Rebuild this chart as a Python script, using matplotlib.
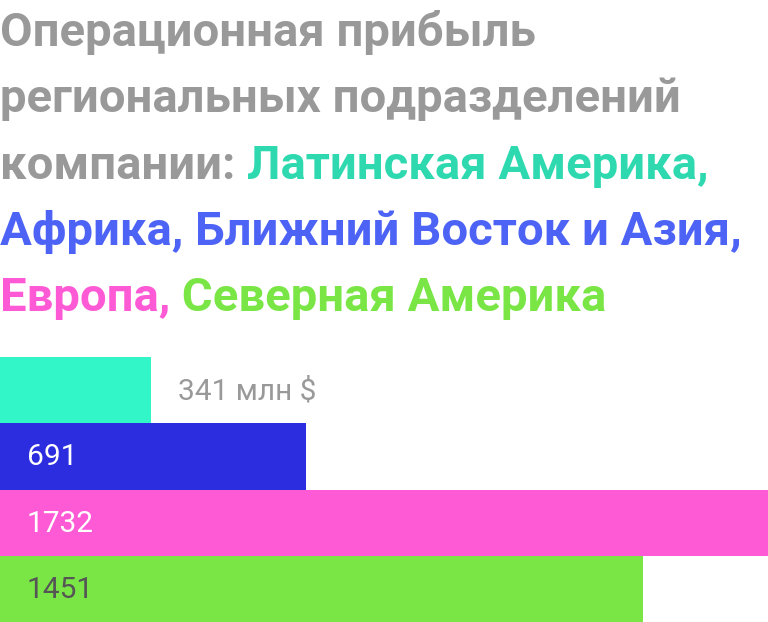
import matplotlib.pyplot as plt

regions = ['Латинская Америка', 'Африка, Ближний Восток и Азия', 'Европа', 'Северная Америка']
profit = [341, 691, 1732, 1451]
labels = ['341 млн $', '691', '1732', '1451']
bar_colors = ['#32F5C8', '#2D2DE0', '#FF5AD5', '#7AE646']
label_colors = ['#999999', '#FFFFFF', '#FFFFFF', '#555555']

title_gray = '#999999'
title_lines = [
    [('Операционная прибыль', title_gray)],
    [('региональных подразделений', title_gray)],
    [('компании: ', title_gray), ('Латинская Америка,', '#2ED9B0')],
    [('Африка, Ближний Восток и Азия,', '#4D63F5')],
    [('Европа,', '#FF5AD5'), (' Северная Америка', '#7AE646')],
]
baselines = [46, 112, 179, 245, 311]  # pixels from top

W, H = 768, 622
fig = plt.figure(figsize=(W / 100, H / 100), dpi=100)
fig.patch.set_facecolor('white')

# bars
ax = fig.add_axes([0, 0, 1, 265 / H])
ax.barh(range(len(profit)), profit, height=1.0, color=bar_colors)
ax.set_xlim(0, max(profit))
ax.set_ylim(len(profit) - 0.5, -0.5)
ax.axis('off')

for i, (v, lab, c) in enumerate(zip(profit, labels, label_colors)):
    x = v if i == 0 else 0
    ax.annotate(lab, xy=(x, i), xytext=(27, 2), textcoords='offset pixels',
                va='center_baseline', ha='left', color=c,
                fontsize=21.5, family='Roboto')

# multi-colour title
fig.canvas.draw()
renderer = fig.canvas.get_renderer()
for line, yb in zip(title_lines, baselines):
    x = 0
    for txt, col in line:
        t = fig.text(x / W, 1 - yb / H, txt, color=col, fontsize=34,
                     fontweight='bold', family='Roboto', va='baseline', ha='left')
        bb = t.get_window_extent(renderer)
        x += bb.width

fig.savefig('out.png', dpi=100)
